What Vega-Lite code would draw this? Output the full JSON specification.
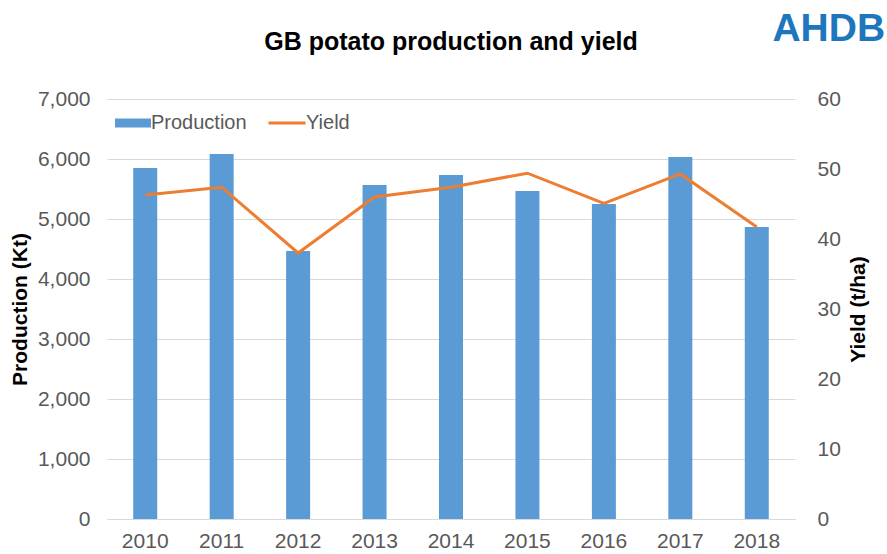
{
  "$schema": "https://vega.github.io/schema/vega-lite/v6.json",
  "width": 688,
  "height": 420,
  "autosize": {"type": "none"},
  "padding": {"left": 107, "top": 99, "right": 92, "bottom": 35},
  "background": "white",
  "title": {
    "text": "GB potato production and yield",
    "font": "Liberation Sans",
    "fontSize": 25,
    "fontWeight": "bold",
    "color": "#000000",
    "anchor": "middle",
    "frame": "group",
    "offset": -45
  },
  "data": {
    "values": [
      {"year": "2010", "production": 5850, "yield": 46.3},
      {"year": "2011", "production": 6083, "yield": 47.4},
      {"year": "2012", "production": 4467, "yield": 38.0},
      {"year": "2013", "production": 5567, "yield": 46.0},
      {"year": "2014", "production": 5733, "yield": 47.4},
      {"year": "2015", "production": 5467, "yield": 49.4},
      {"year": "2016", "production": 5250, "yield": 45.1},
      {"year": "2017", "production": 6033, "yield": 49.3},
      {"year": "2018", "production": 4867, "yield": 41.7}
    ]
  },
  "config": {
    "view": {"stroke": null},
    "axis": {
      "labelFont": "Liberation Sans",
      "labelFontSize": 21,
      "labelColor": "#595959",
      "titleFont": "Liberation Sans",
      "titleFontSize": 21,
      "titleFontWeight": "bold",
      "titleColor": "#000000",
      "ticks": false,
      "domain": false,
      "gridColor": "#d9d9d9",
      "gridWidth": 1
    },
    "axisX": {
      "domain": true,
      "domainColor": "#d9d9d9",
      "labelAngle": 0,
      "grid": false,
      "labelPadding": 11
    },
    "legend": {
      "labelFont": "Liberation Sans",
      "labelFontSize": 20,
      "labelColor": "#595959",
      "title": null
    }
  },
  "encoding": {
    "x": {
      "field": "year",
      "type": "ordinal",
      "title": null,
      "scale": {"paddingInner": 0, "paddingOuter": 0}
    }
  },
  "layer": [
    {
      "mark": {"type": "bar", "size": 24},
      "encoding": {
        "y": {
          "field": "production",
          "type": "quantitative",
          "scale": {"domain": [0, 7000]},
          "axis": {
            "orient": "left",
            "title": "Production (Kt)",
            "format": ",d",
            "values": [0, 1000, 2000, 3000, 4000, 5000, 6000, 7000],
            "grid": true,
            "labelPadding": 17,
            "titlePadding": 7
          }
        },
        "fill": {
          "datum": "Production",
          "scale": {"range": ["#5B9BD5"]},
          "legend": {
            "orient": "none",
            "legendX": -2,
            "legendY": 14,
            "symbolType": "M-2,-0.5H2V0.5H-2Z",
            "symbolSize": 324,
            "symbolOffset": 18,
            "labelOffset": 8,
            "symbolStrokeWidth": 0
          }
        }
      }
    },
    {
      "mark": {"type": "line", "strokeWidth": 3},
      "encoding": {
        "y": {
          "field": "yield",
          "type": "quantitative",
          "scale": {"domain": [0, 60]},
          "axis": {
            "orient": "right",
            "title": "Yield (t/ha)",
            "values": [0, 10, 20, 30, 40, 50, 60],
            "grid": false,
            "labelPadding": 22,
            "titleAngle": 270,
            "titlePadding": 28
          }
        },
        "stroke": {
          "datum": "Yield",
          "scale": {"range": ["#ED7D31"]},
          "legend": {
            "orient": "none",
            "legendX": 160,
            "legendY": 4,
            "symbolType": "stroke",
            "symbolSize": 1369,
            "symbolStrokeWidth": 3,
            "labelOffset": -1
          }
        }
      }
    },
    {
      "data": {"values": [{"logo": "AHDB", "year": "2018", "ypos": 70.0}]},
      "mark": {
        "type": "text",
        "font": "Liberation Sans",
        "fontSize": 39,
        "fontWeight": "bold",
        "color": "#1E76BD",
        "baseline": "middle",
        "align": "center",
        "dx": 72,
        "clip": false
      },
      "encoding": {
        "y": {
          "field": "ypos",
          "type": "quantitative",
          "scale": {"domain": [0, 60]},
          "axis": null
        },
        "text": {"field": "logo"}
      }
    }
  ],
  "resolve": {"scale": {"y": "independent"}}
}
